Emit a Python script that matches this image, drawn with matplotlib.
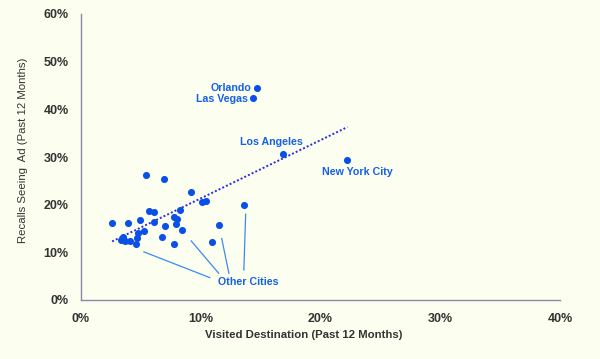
import numpy as np
import matplotlib.pyplot as plt
from matplotlib.ticker import PercentFormatter

# Datos (porcentajes)
other_x = [2.6, 5.4, 6.9, 9.2, 10.1, 10.4, 13.6, 5.7, 6.1, 8.3, 3.9, 4.9, 6.1, 7.75, 8.0,
           7.9, 7.0, 8.4, 11.5, 5.3, 4.8, 6.75, 4.7, 3.5, 3.3, 3.7, 4.1, 4.6, 7.8, 10.9]
other_y = [16.2, 26.2, 25.4, 22.6, 20.6, 20.7, 19.9, 18.7, 18.4, 18.9, 16.1, 16.8, 16.4, 17.4, 17.0,
           15.9, 15.5, 14.6, 15.7, 14.5, 14.1, 13.3, 13.1, 13.2, 12.6, 12.4, 12.4, 11.8, 11.8, 12.2]

cities = ["Orlando", "Las Vegas", "Los Angeles", "New York City"]
city_x = [14.7, 14.4, 16.9, 22.25]
city_y = [44.5, 42.4, 30.6, 29.4]

bg = "#FCFEF0"
blue = "#0A50E6"
text_blue = "#1560E8"
line_blue = "#3A8AF0"

plt.rcParams['font.family'] = ['Liberation Sans', 'DejaVu Sans']

fig = plt.figure(figsize=(6, 3.59), dpi=100, facecolor=bg)
ax = fig.add_axes([81/600, 1 - 300/359, (560-81)/600, (300-14)/359])
ax.set_facecolor(bg)

all_x = np.array(other_x + city_x)
all_y = np.array(other_y + city_y)
ax.scatter(all_x, all_y, s=26, color=blue, zorder=3, linewidths=0)

# linea de tendencia
m, b = np.polyfit(all_x, all_y, 1)
tx = np.array([all_x.min(), all_x.max()])
ax.plot(tx, m * tx + b, color="#2A2AE0", linestyle=(0, (1, 1.1)), lw=1.4, zorder=2)

# etiquetas de ciudades
offsets = {"Orlando": (-4, 0, "right", "center"),
           "Las Vegas": (-4, -1, "right", "center"),
           "Los Angeles": (-9, 8.4, "center", "center"),
           "New York City": (7.5, -8.5, "center", "center")}
for name, x, y in zip(cities, city_x, city_y):
    dx, dy, ha, va = offsets[name]
    ax.annotate(name, (x, y), xytext=(dx, dy), textcoords="offset points",
                ha=ha, va=va, color=text_blue, fontsize=7.7, fontweight="bold")

# Other Cities
ax.text(14.0, 3.8, "Other Cities", ha="center", va="center", color=text_blue,
        fontsize=7.7, fontweight="bold")
for (x0, y0), (x1, y1) in [((5.25, 10.1), (10.75, 4.7)), ((9.2, 12.4), (11.5, 5.6)),
                           ((11.75, 12.9), (12.35, 5.6)), ((13.75, 18.0), (13.6, 6.3))]:
    ax.plot([x0, x1], [y0, y1], color=line_blue, lw=0.9, zorder=2)

ax.set_xlim(0, 40)
ax.set_ylim(0, 60)
ax.set_xticks([0, 10, 20, 30, 40])
ax.set_yticks([0, 10, 20, 30, 40, 50, 60])
ax.xaxis.set_major_formatter(PercentFormatter(decimals=0))
ax.yaxis.set_major_formatter(PercentFormatter(decimals=0))
ax.tick_params(length=0, labelsize=9, labelcolor="#333333")
ax.tick_params(axis="y", pad=9)
ax.tick_params(axis="x", pad=9)
for lab in ax.get_xticklabels() + ax.get_yticklabels():
    lab.set_fontweight("bold")

for s in ["top", "right"]:
    ax.spines[s].set_visible(False)
for s in ["left", "bottom"]:
    ax.spines[s].set_color("#8888AA")
    ax.spines[s].set_linewidth(1)

ax.set_xlabel("Visited Destination (Past 12 Months)", fontsize=8.2, fontweight="bold", color="#333333")
ax.xaxis.set_label_coords((304-81)/479, -(330-300)/286)
ax.set_ylabel("Recalls Seeing  Ad (Past 12 Months)", fontsize=8.2, color="#333333")
ax.yaxis.set_label_coords(-(81-28)/479, (300-150)/286)

plt.savefig("out.png", dpi=100, facecolor=bg)
